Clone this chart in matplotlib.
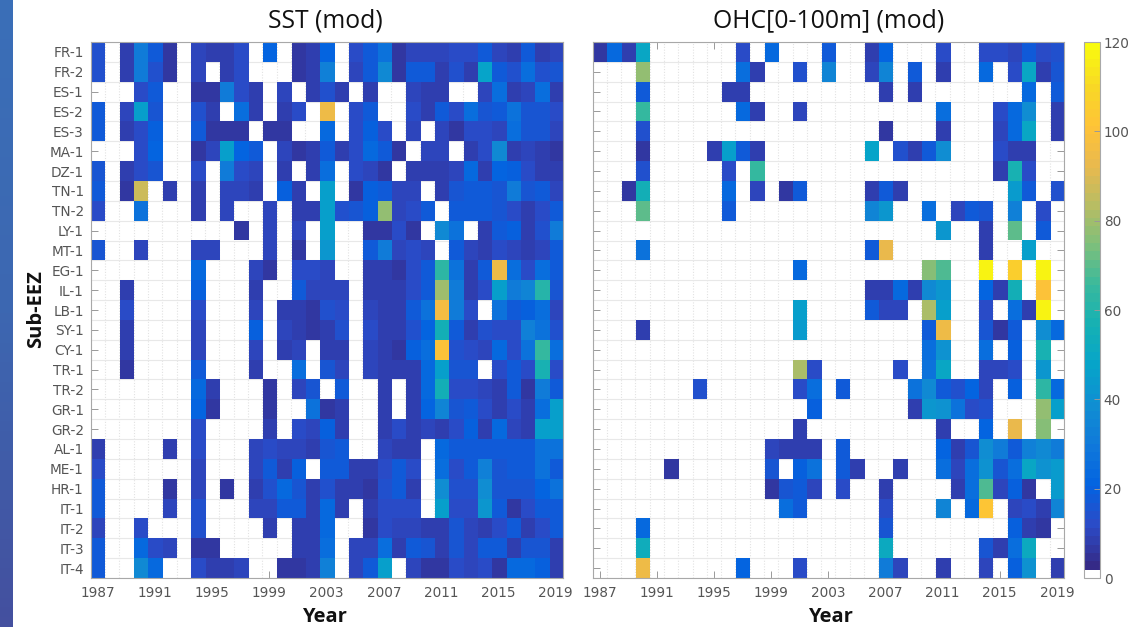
import numpy as np
import matplotlib
matplotlib.use("Agg")
import matplotlib.pyplot as plt
from matplotlib.colors import ListedColormap, LinearSegmentedColormap, Normalize
from matplotlib.ticker import FixedLocator

years = list(range(1987, 2020))
regions = ["FR-1","FR-2","ES-1","ES-2","ES-3","MA-1","DZ-1","TN-1","TN-2","LY-1","MT-1","EG-1","IL-1","LB-1",
           "SY-1","CY-1","TR-1","TR-2","GR-1","GR-2","AL-1","ME-1","HR-1","IT-1","IT-2","IT-3","IT-4"]

# 0 = no event (blank cell); columns 1987..2019
sst = [
 [14,0,8,30,18,7,0,11,8,9,13,0,22,0,7,9,22,0,12,17,28,7,10,10,11,12,13,18,10,8,17,9,10],
 [14,0,9,30,14,7,0,10,0,8,12,0,0,0,7,9,32,0,10,17,36,7,18,18,9,14,9,48,18,14,26,14,15],
 [0,0,0,13,18,0,0,7,7,30,13,9,0,10,0,8,14,8,0,8,0,0,10,9,8,0,0,10,26,9,11,26,9],
 [18,0,10,45,15,0,0,14,8,0,25,8,0,9,12,0,95,0,13,18,0,0,13,9,18,12,26,15,18,28,16,16,12],
 [18,0,8,13,20,0,0,18,7,7,7,0,6,7,0,0,24,0,13,20,12,0,10,0,11,6,12,12,11,26,15,15,10],
 [0,0,0,12,22,0,0,7,10,45,22,18,0,11,7,8,18,8,12,24,17,6,0,10,11,0,8,13,36,9,11,9,7],
 [16,0,9,13,16,0,0,13,0,30,12,11,0,9,0,9,26,0,12,10,7,0,9,9,9,10,24,9,22,20,13,9,9],
 [17,0,6,88,0,9,0,8,0,11,10,9,0,20,9,0,45,0,7,19,18,11,11,0,8,16,17,18,16,30,16,18,11],
 [12,0,0,27,0,0,0,8,0,11,0,0,11,0,9,8,45,14,15,20,78,11,13,18,0,17,17,18,16,12,8,13,18],
 [0,0,0,0,0,0,0,0,0,0,7,0,11,0,10,0,45,0,0,6,6,13,6,0,36,28,0,8,17,20,8,14,30],
 [16,0,0,11,0,0,0,11,11,0,0,0,10,0,7,0,42,0,0,18,30,10,12,10,0,18,10,8,12,10,8,11,18],
 [0,0,0,0,0,0,0,24,0,0,0,10,7,0,12,12,11,0,0,9,8,7,12,18,62,28,9,18,95,26,12,25,18],
 [0,0,8,0,0,0,0,20,0,0,0,9,0,0,18,11,10,10,0,9,9,9,13,18,80,30,9,13,45,30,35,60,16],
 [0,0,12,0,0,0,0,12,0,0,0,10,0,8,9,7,14,13,0,10,9,9,18,28,97,30,12,0,28,18,20,26,10],
 [0,0,9,0,0,0,0,10,0,0,0,20,0,10,9,7,9,14,0,12,8,8,14,22,55,18,9,14,12,13,32,28,14],
 [0,0,8,0,0,0,0,11,0,0,0,10,0,8,11,0,9,9,0,11,9,7,20,26,100,14,13,10,24,13,28,65,25],
 [0,0,7,0,0,0,0,18,0,0,0,9,0,0,26,0,16,10,0,11,9,8,8,24,45,16,16,0,12,17,13,58,13],
 [0,0,0,0,0,0,0,24,8,0,0,0,7,0,10,15,0,17,0,0,9,0,9,23,55,13,12,11,9,17,6,30,17],
 [0,0,0,0,0,0,0,22,7,0,0,0,7,0,0,28,6,8,0,0,9,0,9,22,35,16,17,12,9,12,9,25,46],
 [0,0,0,0,0,0,0,12,0,0,0,0,8,0,13,10,20,9,0,0,8,13,8,10,9,12,20,9,24,11,8,45,46],
 [9,0,0,0,0,9,0,13,0,0,0,10,12,10,10,9,15,17,0,0,10,9,9,0,24,18,18,18,18,18,18,28,28],
 [12,0,0,0,0,0,0,10,0,0,0,11,18,9,20,0,18,18,9,9,13,18,12,0,26,13,18,32,16,17,18,27,18],
 [18,0,0,0,0,7,0,10,0,6,0,9,14,24,16,8,14,9,8,7,14,17,8,0,38,14,14,38,16,15,15,22,28],
 [18,0,0,0,0,10,0,14,0,0,0,10,11,18,18,9,24,9,0,8,12,13,12,0,45,12,12,42,18,6,12,18,18],
 [10,0,0,13,0,0,0,14,0,0,0,0,8,0,8,8,24,0,0,7,13,11,10,9,9,16,10,8,13,18,9,12,18],
 [18,0,0,24,13,10,0,7,7,0,0,0,0,0,8,9,26,0,10,10,25,8,18,16,8,15,11,18,18,8,15,16,9],
 [18,0,0,36,24,0,0,12,8,8,11,0,0,7,7,9,32,0,11,18,46,0,11,6,6,12,11,13,7,24,24,20,8],
]

ohc = [
 [7,24,9,50,0,0,0,0,0,0,12,0,24,0,0,0,18,0,0,9,22,0,0,0,12,0,0,12,12,10,18,13,14],
 [0,0,0,78,0,0,0,0,0,0,26,8,0,0,14,0,34,0,0,11,35,0,17,0,8,0,0,24,0,13,50,8,15],
 [0,0,0,18,0,0,0,0,0,8,8,0,0,0,0,0,0,0,0,0,8,0,8,0,0,0,0,0,0,0,24,0,18],
 [0,0,0,65,0,0,0,0,0,0,24,9,0,0,10,0,0,0,0,0,0,0,0,0,26,0,0,0,12,24,38,0,9],
 [0,0,0,14,0,0,0,0,0,0,0,0,0,0,0,0,0,0,0,0,7,0,0,0,8,0,0,0,10,24,50,0,8],
 [0,0,0,7,0,0,0,0,9,46,18,9,0,0,0,0,0,0,0,47,0,14,8,17,38,0,0,0,12,9,8,0,0],
 [0,0,0,14,0,0,0,0,0,13,0,65,0,0,0,0,0,0,0,0,0,0,0,0,0,0,0,0,9,58,12,0,0],
 [0,0,7,55,0,0,0,0,0,24,0,10,0,7,18,0,0,0,0,9,18,9,0,0,0,0,0,0,0,44,18,0,14],
 [0,0,0,70,0,0,0,0,0,17,0,0,0,0,0,0,0,0,0,34,42,0,0,26,0,10,17,15,0,32,0,12,0],
 [0,0,0,0,0,0,0,0,0,0,0,0,0,0,0,0,0,0,0,0,0,0,0,0,42,0,0,8,0,70,0,18,0],
 [0,0,0,28,0,0,0,0,0,0,0,0,0,0,0,0,0,0,0,18,92,0,0,0,0,0,0,8,0,0,46,0,0],
 [0,0,0,0,0,0,0,0,0,0,0,0,0,0,24,0,0,0,0,0,0,0,0,75,68,0,0,118,0,105,0,118,0],
 [0,0,0,0,0,0,0,0,0,0,0,0,0,0,0,0,0,0,0,9,9,24,8,36,42,0,0,22,8,55,0,100,0],
 [0,0,0,0,0,0,0,0,0,0,0,0,0,0,46,0,0,0,0,18,11,11,0,82,46,0,0,13,0,26,8,118,0],
 [0,0,0,8,0,0,0,0,0,0,0,0,0,0,44,0,0,0,0,0,0,0,0,17,94,0,0,16,7,18,0,38,24],
 [0,0,0,0,0,0,0,0,0,0,0,0,0,0,0,0,0,0,0,0,0,0,0,26,40,0,0,26,0,20,0,58,0],
 [0,0,0,0,0,0,0,0,0,0,0,0,0,0,82,13,0,0,0,0,0,12,0,28,50,0,0,10,10,12,0,42,0],
 [0,0,0,0,0,0,0,14,0,0,0,0,0,0,12,26,0,18,0,0,0,0,28,36,18,14,22,10,0,20,0,62,24],
 [0,0,0,0,0,0,0,0,0,0,0,0,0,0,0,19,0,0,0,0,0,0,8,42,40,28,12,14,0,0,0,78,45],
 [0,0,0,0,0,0,0,0,0,0,0,0,0,0,9,0,0,0,0,0,0,0,0,0,8,0,0,22,0,92,0,75,0],
 [0,0,0,0,0,0,0,0,0,0,0,0,11,8,8,8,0,18,0,0,0,0,0,0,22,8,15,38,30,17,32,36,30],
 [0,0,0,0,0,6,0,0,0,0,0,0,16,0,20,28,0,18,8,0,0,8,0,0,26,10,26,40,15,26,50,40,44],
 [0,0,0,0,0,0,0,0,0,0,0,0,7,15,18,10,0,13,0,0,8,0,0,0,0,8,26,68,10,20,7,0,44],
 [0,0,0,0,0,0,0,0,0,0,0,0,0,26,18,0,0,0,0,0,13,0,0,0,34,0,24,103,0,11,13,8,34],
 [0,0,0,24,0,0,0,0,0,0,0,0,0,0,0,0,0,0,0,0,16,0,0,0,0,0,0,0,0,20,8,7,0],
 [0,0,0,54,0,0,0,0,0,0,0,0,0,0,0,0,0,0,0,0,52,0,0,0,0,0,0,16,9,26,52,0,0],
 [0,0,0,95,0,0,0,0,0,0,22,0,0,0,13,0,0,0,0,0,30,10,0,0,8,0,0,11,0,20,40,0,9],
]

panel_titles = ["SST (mod)", "OHC[0-100m] (mod)"]
cbar_ticks = [0, 20, 40, 60, 80, 100, 120]

W, H = 1144, 627
fig = plt.figure(figsize=(W / 100, H / 100), dpi=100, facecolor="white")


def box(x0, y0, x1, y1):
    return [x0 / W, 1 - y1 / H, (x1 - x0) / W, (y1 - y0) / H]


# slide strip at the left edge
strip = fig.add_axes(box(0, 0, 13, 627), zorder=-5)
strip.imshow(np.linspace(0, 1, 64)[:, None], aspect="auto",
             cmap=LinearSegmentedColormap.from_list("s", ["#3a6fb8", "#3d67b1", "#44509f"]))
strip.axis("off")

# parula, 64 levels; lowest level white
anchors = [(.2081, .1663, .5292), (.1707, .2919, .7792), (.0117, .3875, .8820), (.0629, .4737, .8554),
           (.0641, .5570, .8240), (.0231, .6418, .7913), (.0843, .6928, .7062), (.2178, .7250, .6193),
           (.4871, .7491, .4840), (.7184, .7411, .3905), (.9139, .7258, .3063), (.9990, .7653, .2164),
           (.9697, .8481, .1475), (.9763, .9831, .0538)]
base = LinearSegmentedColormap.from_list("p", anchors, N=63)(np.arange(63))
cmap = ListedColormap(np.vstack([[1, 1, 1, 1], base]))
norm = Normalize(0, 120)

GRAY = "#555555"
LINE = "#a8a8a8"
boxes = [box(90.7, 42, 562.7, 578), box(592.5, 42, 1064, 578)]
titles_x = [325, 829]
label_x = [324, 830]
im = None
for i, (data, pos) in enumerate(zip([sst, ohc], boxes)):
    ax = fig.add_axes(pos)
    arr = np.ma.masked_equal(np.array(data, dtype=float), 0)
    im = ax.imshow(arr, cmap=cmap, norm=norm, aspect="auto", interpolation="nearest", zorder=1)
    ax.set_xlim(-0.5, len(years) - 0.5)
    ax.set_ylim(len(regions) - 0.5, -0.5)
    ax.set_xticks(range(0, len(years), 4), [str(years[k]) for k in range(0, len(years), 4)])
    ax.set_yticks(range(len(regions)))
    ax.set_yticklabels(regions if i == 0 else [])
    ax.xaxis.set_minor_locator(FixedLocator(np.arange(-0.5, len(years))))
    ax.yaxis.set_minor_locator(FixedLocator(np.arange(-0.5, len(regions))))
    ax.grid(False)
    ax.set_axisbelow(True)
    ax.grid(which="minor", axis="y", color="#e8e8e8", lw=0.8, zorder=0.5)
    ax.grid(which="minor", axis="x", color="#e2e2e2", lw=0.8, ls=(0, (1, 1.5)), zorder=0.5)
    ax.tick_params(which="minor", length=0)
    ax.tick_params(which="major", direction="in", length=5, width=0.7, color="#999999",
                   labelsize=9.8, labelcolor=GRAY, top=True, right=True, pad=6)
    ax.tick_params(axis="y", pad=5)
    for s in ax.spines.values():
        s.set_color(LINE)
        s.set_linewidth(0.8)
    fig.text(titles_x[i] / W, 1 - 21 / H, panel_titles[i], fontsize=17.8, family="Open Sans",
             ha="center", va="center", color="#111111")
    fig.text(label_x[i] / W, 1 - 617 / H, "Year", fontsize=14.5, family="Open Sans", weight="bold",
             ha="center", va="center", color="#111111")

fig.text(36 / W, 1 - 309 / H, "Sub-EEZ", fontsize=14.5, family="Open Sans", weight="bold",
         rotation=90, ha="center", va="center", color="#111111")

cax = fig.add_axes(box(1084, 42, 1099.5, 578))
cb = fig.colorbar(im, cax=cax, ticks=cbar_ticks)
cb.ax.tick_params(direction="in", length=4, width=0.7, color="#999999", labelsize=9.8, labelcolor=GRAY, pad=3)
cb.outline.set_edgecolor(LINE)
cb.outline.set_linewidth(0.8)

fig.savefig("out.png", dpi=100)
